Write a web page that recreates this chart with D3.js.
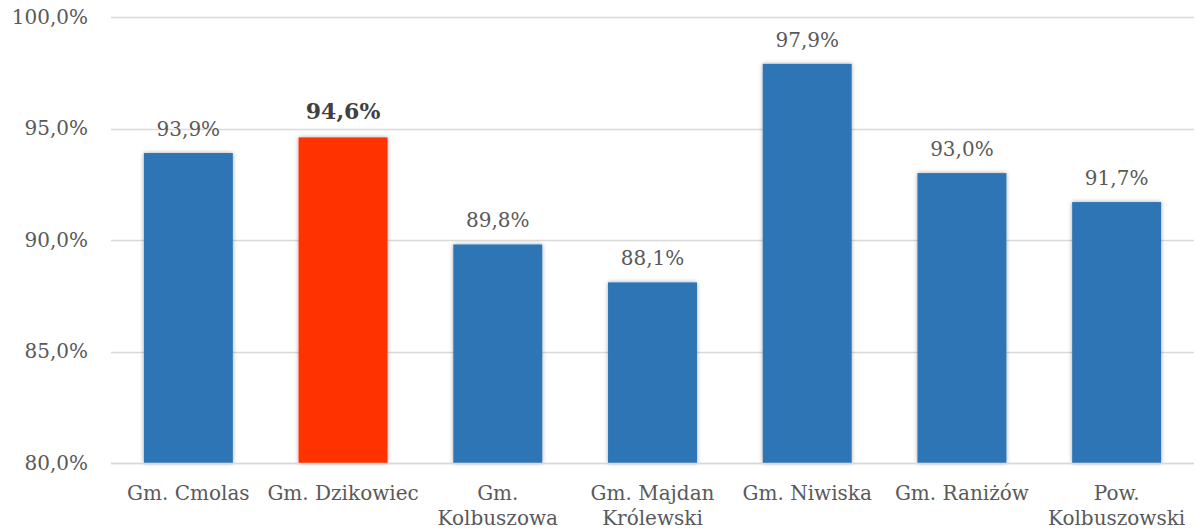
<!DOCTYPE html>
<html>
<head>
<meta charset="utf-8">
<script src="https://cdn.jsdelivr.net/npm/d3@7"></script>
<style>
  html, body { margin: 0; padding: 0; background: #fff; }
  svg { display: block; }
  text { font-family: "DejaVu Serif", serif; }
</style>
</head>
<body>
<svg id="chart" width="1198" height="530"></svg>
<script>
// Share of population, by area
const categories = [
  ["Gm. Cmolas"],
  ["Gm. Dzikowiec"],
  ["Gm.", "Kolbuszowa"],
  ["Gm. Majdan", "Królewski"],
  ["Gm. Niwiska"],
  ["Gm. Raniżów"],
  ["Pow.", "Kolbuszowski"]
];
const values = [93.9, 94.6, 89.8, 88.1, 97.9, 93.0, 91.7];
const highlighted = [false, true, false, false, false, false, false];
const yTicks = [80, 85, 90, 95, 100];

const W = 1198, H = 530;
const margin = { top: 17, right: 4, bottom: 67, left: 111 };

const svg = d3.select("#chart");

const defs = svg.append("defs");
const shadow = defs.append("filter").attr("id", "barShadow")
  .attr("x", "-20%").attr("y", "-20%").attr("width", "140%").attr("height", "140%");
shadow.append("feDropShadow")
  .attr("dx", 0).attr("dy", 0).attr("stdDeviation", 2)
  .attr("flood-color", "#000").attr("flood-opacity", 0.35);

const keys = categories.map(c => c.join(" "));

const x = d3.scaleBand()
  .domain(keys)
  .range([margin.left, W - margin.right])
  .paddingInner(0.425)
  .paddingOuter(0.2125);

const y = d3.scaleLinear()
  .domain([80, 100])
  .range([H - margin.bottom, margin.top]);

const fmt = v => d3.format(".1f")(v).replace(".", ",") + "%";

// Gridlines
svg.append("g")
  .selectAll("line")
  .data(yTicks)
  .join("line")
  .attr("x1", margin.left)
  .attr("x2", W - margin.right)
  .attr("y1", d => Math.round(y(d)) + 0.5)
  .attr("y2", d => Math.round(y(d)) + 0.5)
  .attr("stroke", "#d9d9d9")
  .attr("stroke-width", 1.5);

// Y axis labels
const yAxis = d3.axisLeft(y).tickValues(yTicks).tickFormat(fmt).tickSize(0).tickPadding(23);
const yg = svg.append("g").attr("transform", `translate(${margin.left},0)`).call(yAxis);
yg.select(".domain").remove();
yg.selectAll("text")
  .attr("fill", "#595959")
  .style("font-size", "20px")
  .style("font-family", "\"DejaVu Serif\", serif");

// Bars
svg.append("g")
  .selectAll("rect")
  .data(values)
  .join("rect")
  .attr("x", (d, i) => x(keys[i]))
  .attr("width", x.bandwidth())
  .attr("y", d => y(d))
  .attr("height", d => y(80) - y(d))
  .attr("fill", (d, i) => highlighted[i] ? "#ff3300" : "#2e75b6")
  .attr("filter", "url(#barShadow)");

// Redraw the baseline over the bar feet
svg.append("line")
  .attr("x1", margin.left).attr("x2", W - margin.right)
  .attr("y1", Math.round(y(80)) + 0.5).attr("y2", Math.round(y(80)) + 0.5)
  .attr("stroke", "#d9d9d9").attr("stroke-width", 1.5);

// Value labels
svg.append("g")
  .selectAll("text")
  .data(values)
  .join("text")
  .attr("x", (d, i) => x(keys[i]) + x.bandwidth() / 2)
  .attr("y", (d, i) => y(d) - (highlighted[i] ? 18 : 17))
  .attr("text-anchor", "middle")
  .attr("fill", (d, i) => highlighted[i] ? "#404040" : "#595959")
  .style("font-size", (d, i) => highlighted[i] ? "22px" : "20px")
  .style("font-weight", (d, i) => highlighted[i] ? "bold" : "normal")
  .text(d => fmt(d));

// Category labels
const cat = svg.append("g")
  .selectAll("text")
  .data(categories)
  .join("text")
  .attr("x", (d, i) => x(keys[i]) + x.bandwidth() / 2)
  .attr("y", 500)
  .attr("text-anchor", "middle")
  .attr("fill", "#595959")
  .style("font-size", "20px");
cat.selectAll("tspan")
  .data(d => d)
  .join("tspan")
  .attr("x", function () { return d3.select(this.parentNode).attr("x"); })
  .attr("dy", (d, j) => j === 0 ? 0 : 25)
  .text(d => d);
</script>
</body>
</html>
